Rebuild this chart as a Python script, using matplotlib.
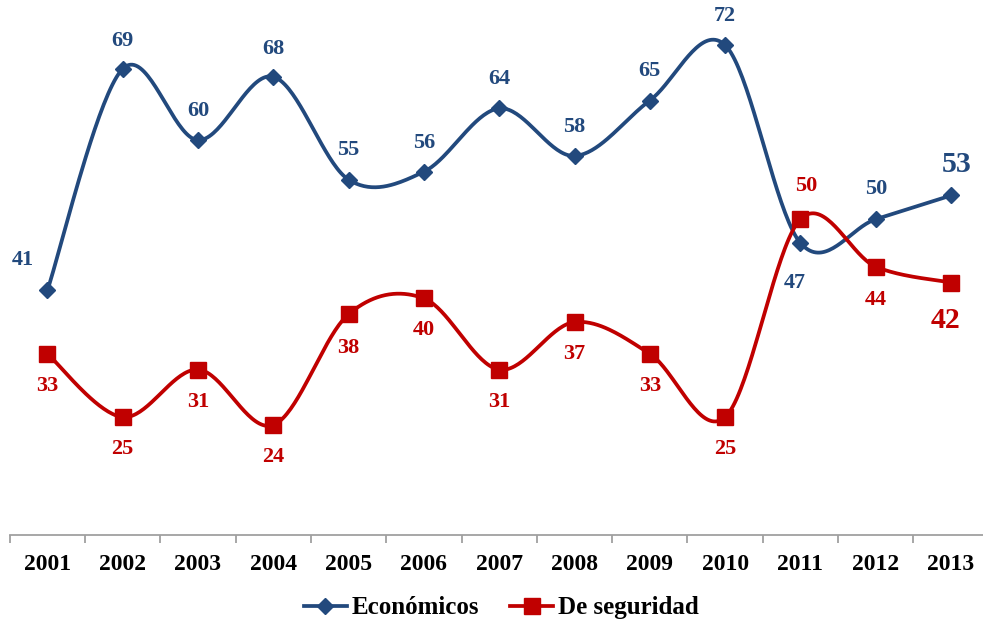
import matplotlib.pyplot as plt
import numpy as np

plt.rcParams['font.family'] = ['Liberation Serif', 'DejaVu Serif']

years = ['2001', '2002', '2003', '2004', '2005', '2006', '2007',
         '2008', '2009', '2010', '2011', '2012', '2013']
economicos = [41, 69, 60, 68, 55, 56, 64, 58, 65, 72, 47, 50, 53]
seguridad = [33, 25, 31, 24, 38, 40, 31, 37, 33, 25, 50, 44, 42]

blue = '#22497d'
red = '#c00000'


def smooth(x, y, n=40):
    # Catmull-Rom style bezier through every point
    px = np.concatenate([[x[0]], x, [x[-1]]])
    py = np.concatenate([[y[0]], y, [y[-1]]])
    xs, ys = [], []
    t = np.linspace(0, 1, n)
    for i in range(1, len(px) - 2):
        p0 = np.array([px[i], py[i]])
        p3 = np.array([px[i + 1], py[i + 1]])
        p1 = p0 + (np.array([px[i + 1], py[i + 1]]) - np.array([px[i - 1], py[i - 1]])) / 6
        p2 = p3 - (np.array([px[i + 2], py[i + 2]]) - np.array([px[i], py[i]])) / 6
        b = ((1 - t) ** 3)[:, None] * p0 + (3 * (1 - t) ** 2 * t)[:, None] * p1 \
            + (3 * (1 - t) * t ** 2)[:, None] * p2 + (t ** 3)[:, None] * p3
        xs.extend(b[:, 0])
        ys.extend(b[:, 1])
    return np.array(xs), np.array(ys)


fig = plt.figure(figsize=(9.83, 6.24), dpi=100)
ax = fig.add_axes([9.7 / 983, 89 / 624, 979 / 983, 535 / 624])

x = np.arange(len(years))
# y in pixel-like units so the curve shape stays even
sx, sy = smooth(x * 75.33, np.array(economicos) * 7.917)
ax.plot(sx / 75.33, sy / 7.917, color=blue, lw=2.7, solid_capstyle='round')
sx, sy = smooth(x * 75.33, np.array(seguridad) * 7.917)
ax.plot(sx / 75.33, sy / 7.917, color=red, lw=2.7, solid_capstyle='round')
ax.plot(x, economicos, 'D', color=blue, ms=8)
ax.plot(x, seguridad, 's', color=red, ms=11)

# data labels (offsets in points)
eco_off = [(-18, 22), (0, 20), (0, 21), (0, 20), (0, 21), (0, 21), (0, 21),
           (0, 21), (0, 21), (0, 21), (-4, -29), (0, 22), (4, 22)]
seg_off = [(0, -23), (0, -23), (0, -23), (0, -23), (0, -24), (0, -23), (0, -23),
           (0, -23), (0, -23), (0, -23), (4, 24), (0, -24), (-4, -27)]
for i, v in enumerate(economicos):
    big = i == len(economicos) - 1
    ax.annotate(str(v), (x[i], v), xytext=eco_off[i], textcoords='offset points',
                ha='center', va='center', color=blue, fontweight='bold',
                fontsize=21.5 if big else 16)
for i, v in enumerate(seguridad):
    big = i == len(seguridad) - 1
    ax.annotate(str(v), (x[i], v), xytext=seg_off[i], textcoords='offset points',
                ha='center', va='center', color=red, fontweight='bold',
                fontsize=21.5 if big else 16)

ax.set_xlim(-0.5, 12.5)
ax.set_ylim(10.1, 77.7)
ax.set_yticks([])
for s in ['top', 'right', 'left']:
    ax.spines[s].set_visible(False)
ax.spines['bottom'].set_color('#a0a0a0')
ax.spines['bottom'].set_linewidth(1.3)
ax.set_xticks(x)
ax.set_xticklabels(years, fontsize=17, fontweight='bold')
ax.tick_params(axis='x', which='major', length=0, pad=14)
ax.set_xticks(np.arange(-0.5, 13, 1), minor=True)
ax.tick_params(axis='x', which='minor', length=6, width=1.3, color='#a0a0a0')

h1, = ax.plot([], [], color=blue, lw=2.7, marker='D', ms=8, label='Económicos')
h2, = ax.plot([], [], color=red, lw=2.7, marker='s', ms=11, label='De seguridad')
fig.legend(handles=[h1, h2], loc='center', bbox_to_anchor=(0.51, 0.026),
           ncol=2, frameon=False, prop={'size': 18, 'weight': 'bold'},
           handlelength=1.7, handletextpad=0.2, columnspacing=1.25)

plt.savefig('out.png', dpi=100)
